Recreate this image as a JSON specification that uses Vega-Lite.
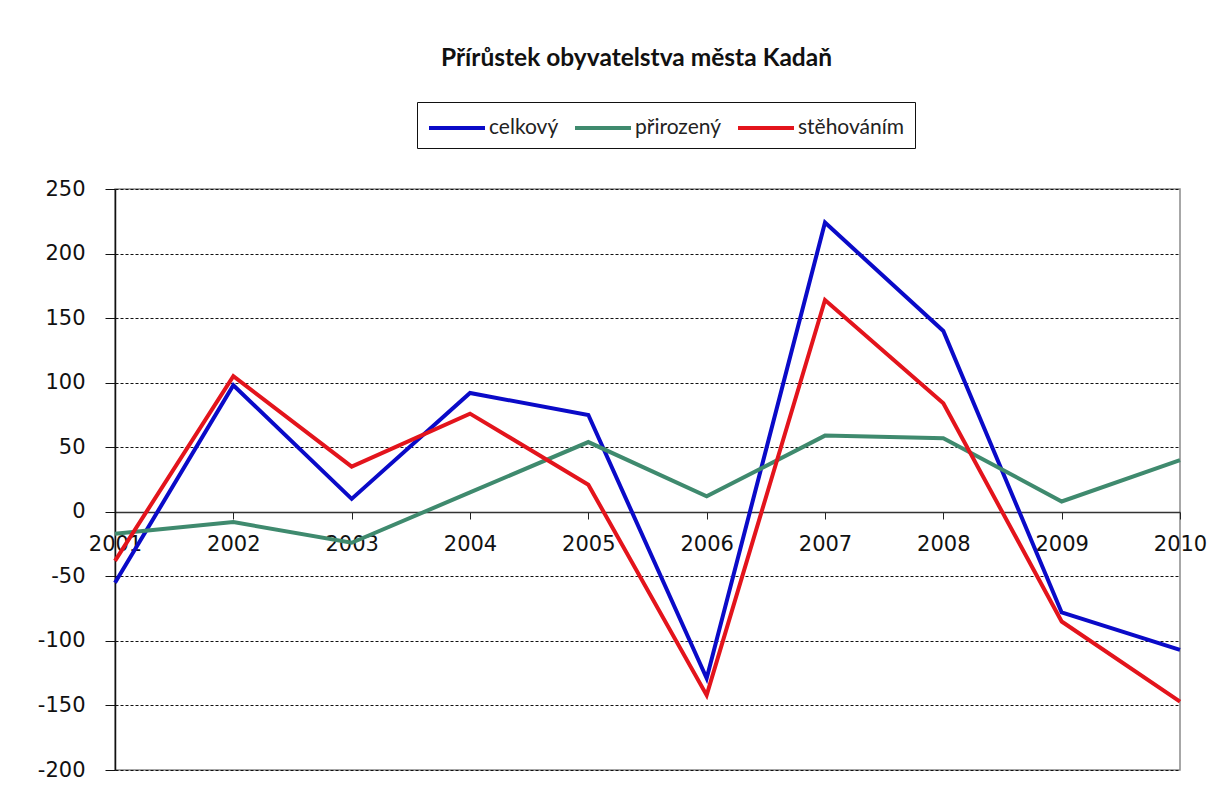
{
  "$schema": "https://vega.github.io/schema/vega-lite/v6.json",
  "autosize": {"type": "none"},
  "width": 1065,
  "height": 581,
  "padding": {"left": 115, "top": 189, "right": 40, "bottom": 39},
  "background": "white",
  "title": {
    "text": "Přírůstek obyvatelstva města Kadaň",
    "font": "Lato",
    "fontSize": 24.5,
    "fontWeight": "bold",
    "color": "#111111",
    "anchor": "middle",
    "frame": "group",
    "dx": -11,
    "offset": 30
  },
  "data": {
    "values": [
      {"rok": "2001", "serie": "celkový", "hodnota": -55},
      {"rok": "2002", "serie": "celkový", "hodnota": 98},
      {"rok": "2003", "serie": "celkový", "hodnota": 10},
      {"rok": "2004", "serie": "celkový", "hodnota": 92},
      {"rok": "2005", "serie": "celkový", "hodnota": 75},
      {"rok": "2006", "serie": "celkový", "hodnota": -129},
      {"rok": "2007", "serie": "celkový", "hodnota": 224},
      {"rok": "2008", "serie": "celkový", "hodnota": 140},
      {"rok": "2009", "serie": "celkový", "hodnota": -78},
      {"rok": "2010", "serie": "celkový", "hodnota": -107},
      {"rok": "2001", "serie": "přirozený", "hodnota": -17},
      {"rok": "2002", "serie": "přirozený", "hodnota": -8},
      {"rok": "2003", "serie": "přirozený", "hodnota": -24},
      {"rok": "2004", "serie": "přirozený", "hodnota": 15},
      {"rok": "2005", "serie": "přirozený", "hodnota": 54},
      {"rok": "2006", "serie": "přirozený", "hodnota": 12},
      {"rok": "2007", "serie": "přirozený", "hodnota": 59},
      {"rok": "2008", "serie": "přirozený", "hodnota": 57},
      {"rok": "2009", "serie": "přirozený", "hodnota": 8},
      {"rok": "2010", "serie": "přirozený", "hodnota": 40},
      {"rok": "2001", "serie": "stěhováním", "hodnota": -38},
      {"rok": "2002", "serie": "stěhováním", "hodnota": 105},
      {"rok": "2003", "serie": "stěhováním", "hodnota": 35},
      {"rok": "2004", "serie": "stěhováním", "hodnota": 76},
      {"rok": "2005", "serie": "stěhováním", "hodnota": 21},
      {"rok": "2006", "serie": "stěhováním", "hodnota": -142},
      {"rok": "2007", "serie": "stěhováním", "hodnota": 164},
      {"rok": "2008", "serie": "stěhováním", "hodnota": 84},
      {"rok": "2009", "serie": "stěhováním", "hodnota": -85},
      {"rok": "2010", "serie": "stěhováním", "hodnota": -147}
    ]
  },
  "mark": {"type": "line", "strokeWidth": 4, "strokeJoin": "miter", "clip": false},
  "encoding": {
    "x": {
      "field": "rok",
      "type": "ordinal",
      "scale": {"type": "point", "padding": 0},
      "axis": {
        "title": null,
        "orient": "bottom",
        "offset": -258,
        "labelAngle": 0,
        "labelFont": "DejaVu Sans",
        "labelFontSize": 21,
        "labelColor": "#111111",
        "labelPadding": 14,
        "labelOverlap": false,
        "labelFlush": false,
        "labelBound": false,
        "tickSize": 7,
        "tickColor": "#222222",
        "domainColor": "#333333",
        "domainWidth": 1.5,
        "grid": false,
        "zindex": 0
      }
    },
    "y": {
      "field": "hodnota",
      "type": "quantitative",
      "scale": {"domain": [-200, 250], "nice": false, "zero": false},
      "axis": {
        "title": null,
        "values": [-200, -150, -100, -50, 0, 50, 100, 150, 200, 250],
        "labelExpr": "'' + datum.value",
        "labelFont": "DejaVu Sans",
        "labelFontSize": 21,
        "labelColor": "#111111",
        "labelPadding": 20,
        "tickSize": 10,
        "tickColor": "#111111",
        "domainColor": "#111111",
        "domainWidth": 1.5,
        "grid": true,
        "gridColor": "#111111",
        "gridDash": [3, 2],
        "gridWidth": 1,
        "zindex": 0
      }
    },
    "color": {
      "field": "serie",
      "type": "nominal",
      "scale": {
        "domain": ["celkový", "přirozený", "stěhováním"],
        "range": ["#0a0ac8", "#3f8a6e", "#e3141c"]
      },
      "legend": {
        "title": null,
        "orient": "none",
        "direction": "horizontal",
        "legendX": 302,
        "legendY": -87,
        "symbolType": "M-2,0H2",
        "symbolSize": 784,
        "symbolStrokeWidth": 4,
        "symbolOffset": 14,
        "labelFont": "Lato",
        "labelFontSize": 21,
        "labelColor": "#222222",
        "labelOffset": 16,
        "columnPadding": 8,
        "padding": 10,
        "strokeColor": "#111111",
        "fillColor": "white"
      }
    }
  },
  "config": {
    "view": {"stroke": "#8a8a8a", "strokeWidth": 1.5, "fill": "white"}
  }
}
